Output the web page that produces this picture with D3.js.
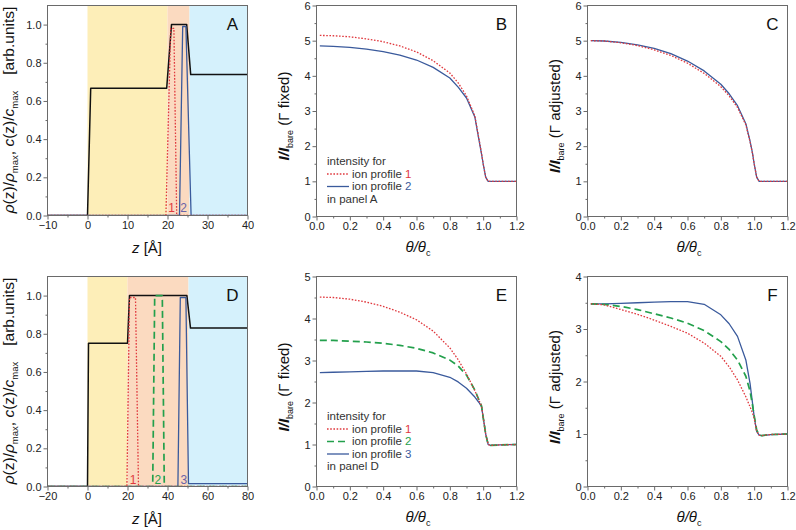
<!DOCTYPE html>
<html><head><meta charset="utf-8">
<script src="https://cdn.jsdelivr.net/npm/d3@7"></script>
<style>body{margin:0;background:#fff}</style>
</head><body><svg id="c" width="796" height="530"></svg>
<script>
// ---------- DATA ----------
// Panel A: density profile and ion profiles
const zA_rho  = [-10, 0, 0.8, 19.8, 21, 24.8, 25.8, 40];
const rhoA    = [0, 0, 0.667, 0.667, 1.0, 1.0, 0.738, 0.738];
const zA_ion1 = [-10, 19.6, 20.8, 21.6, 22.3, 40];
const cA_ion1 = [0, 0, 0.98, 0.98, 0, 0];
const zA_ion2 = [-10, 23.0, 23.8, 24.6, 25.9, 40];
const cA_ion2 = [0, 0, 0.99, 0.99, 0, 0];
const regionsA = [[0, 20], [20, 25.5], [25.5, 40]];
const ionLabelsA = [["1", 21], ["2", 24]];

// Panel D
const zD_rho  = [-20, 0, 0.5, 20, 21, 49.7, 51.5, 80];
const rhoD    = [0, 0, 0.75, 0.75, 1.0, 1.0, 0.83, 0.83];
const zD_ion1 = [-20, 19.7, 21, 24, 25.5, 80];
const cD_ion1 = [0, 0, 0.99, 0.99, 0, 0];
const zD_ion2 = [-20, 32.6, 33.6, 37.4, 38.4, 80];
const cD_ion2 = [0, 0, 1.0, 1.0, 0, 0];
const zD_ion3 = [-20, 45.2, 46.4, 49.2, 50.5, 80];
const cD_ion3 = [0, 0, 0.99, 0.99, 0.015, 0.015];
const regionsD = [[0, 20], [20, 50.5], [50.5, 80]];
const ionLabelsD = [["1", 22.8], ["2", 35.2], ["3", 48.2]];

// Intensity curves vs theta/theta_c
const theta = [0.02,0.1,0.2,0.3,0.4,0.5,0.6,0.7,0.8,0.85,0.9,0.95,0.975,0.99,1.0,1.015,1.03,1.045,1.1,1.2];
const B_ion1 = [5.15,5.14,5.11,5.05,4.97,4.85,4.68,4.43,4.08,3.80,3.43,2.86,2.20,1.80,1.50,1.12,1.00,1.00,1.00,1.00];
const B_ion2 = [4.85,4.84,4.81,4.76,4.69,4.59,4.45,4.24,3.94,3.68,3.37,2.83,2.17,1.78,1.50,1.12,1.00,1.00,1.00,1.00];
const C_ion1 = [5.00,4.99,4.94,4.86,4.74,4.58,4.36,4.07,3.69,3.43,3.10,2.61,2.13,1.79,1.50,1.12,1.00,1.00,1.00,1.00];
const C_ion2 = [5.00,4.99,4.95,4.88,4.78,4.63,4.42,4.14,3.76,3.49,3.15,2.64,2.15,1.80,1.50,1.12,1.00,1.00,1.00,1.00];
const E_ion1 = [4.51,4.50,4.46,4.39,4.29,4.15,3.97,3.70,3.30,3.02,2.68,2.28,2.05,1.92,1.65,1.25,1.00,0.98,0.99,1.00];
const E_ion2 = [3.48,3.48,3.46,3.44,3.41,3.36,3.29,3.18,3.01,2.87,2.65,2.30,2.06,1.92,1.65,1.25,1.00,0.98,0.99,1.00];
const E_ion3 = [2.71,2.72,2.73,2.74,2.75,2.75,2.75,2.71,2.60,2.49,2.34,2.13,2.00,1.90,1.65,1.25,1.00,0.98,0.99,1.00];
const F_ion1 = [3.48,3.46,3.37,3.28,3.17,3.05,2.92,2.73,2.48,2.28,2.03,1.71,1.52,1.40,1.30,1.05,0.98,0.97,0.99,1.00];
const F_ion2 = [3.48,3.47,3.43,3.37,3.29,3.21,3.11,2.97,2.76,2.61,2.41,2.10,1.82,1.55,1.35,1.08,0.98,0.97,0.99,1.00];
const F_ion3 = [3.48,3.48,3.49,3.50,3.51,3.52,3.52,3.47,3.27,3.10,2.86,2.41,1.97,1.59,1.33,1.05,0.98,0.97,0.99,1.00];

// Ticks
const zTicksA = [-10, 0, 10, 20, 30, 40];
const zTicksD = [-20, 0, 20, 40, 60, 80];
const rhoTicks = [0, 0.2, 0.4, 0.6, 0.8, 1.0];
const thetaTicks = [0, 0.2, 0.4, 0.6, 0.8, 1.0, 1.2];

// ---------- STYLE ----------
const FONT = "'Liberation Sans', Arial, Helvetica, sans-serif";
const COL = {red: "#e0393e", blue: "#3a5a9c", green: "#23a04c", black: "#111",
  yellow: "#fdeeb8", orange: "#fbdac0", cyan: "#d5f1fc", frame: "#6a6a6a", lbl3: "#6a64a8"};
const STY = {
  ion1: {stroke: COL.red, width: 1.3, dash: "1.6,1.6"},
  ion2B: {stroke: COL.blue, width: 1.3, dash: null},
  ion2: {stroke: COL.green, width: 1.7, dash: "7,4"},
  ion3: {stroke: COL.blue, width: 1.3, dash: null},
  rho: {stroke: COL.black, width: 1.5, dash: null}
};

const svg = d3.select("#c").style("font-family", FONT);

function makePanel(cfg) {
  const g = svg.append("g");
  const x = d3.scaleLinear().domain(cfg.xdom).range([cfg.left, cfg.left + cfg.w]);
  const y = d3.scaleLinear().domain(cfg.ydom).range([cfg.top + cfg.h, cfg.top]);
  const clipId = "clip" + cfg.id;
  svg.append("clipPath").attr("id", clipId).append("rect")
    .attr("x", cfg.left).attr("y", cfg.top).attr("width", cfg.w).attr("height", cfg.h);
  const plot = g.append("g").attr("clip-path", `url(#${clipId})`);

  if (cfg.regions) {
    const fills = [COL.yellow, COL.orange, COL.cyan];
    cfg.regions.forEach((r, i) => {
      plot.append("rect").attr("x", x(r[0])).attr("y", cfg.top)
        .attr("width", x(r[1]) - x(r[0])).attr("height", cfg.h).attr("fill", fills[i]);
    });
  }
  const line = d3.line().x(d => x(d[0])).y(d => y(d[1]));
  cfg.series.forEach(s => {
    const pts = s.xs.map((v, i) => [v, s.ys[i]]);
    plot.append("path").attr("d", line(pts)).attr("fill", "none")
      .attr("stroke", s.style.stroke).attr("stroke-width", s.style.width)
      .attr("stroke-dasharray", s.style.dash).attr("stroke-linejoin", "round");
  });

  // axes (outward ticks)
  const xAxis = d3.axisBottom(x).tickValues(cfg.xticks).tickSize(4).tickPadding(2).tickFormat(cfg.xfmt);
  const xMinor = d3.axisBottom(x).tickValues(cfg.xminor).tickSize(2).tickFormat("");
  const yAxis = d3.axisLeft(y).tickValues(cfg.yticks).tickSize(4).tickPadding(2).tickFormat(cfg.yfmt);
  const yMinor = d3.axisLeft(y).tickValues(cfg.yminor).tickSize(2).tickFormat("");
  [xAxis, xMinor].forEach(a => {
    style(g.append("g").attr("transform", `translate(0,${cfg.top + cfg.h})`).call(a));
  });
  [yAxis, yMinor].forEach(a => {
    style(g.append("g").attr("transform", `translate(${cfg.left},0)`).call(a));
  });
  g.append("rect").attr("x", cfg.left).attr("y", cfg.top).attr("width", cfg.w).attr("height", cfg.h)
    .attr("fill", "none").attr("stroke", COL.frame).attr("stroke-width", 1);

  // panel letter
  g.append("text").attr("x", cfg.left + cfg.w - 15).attr("y", cfg.top + 24)
    .attr("text-anchor", "middle").attr("font-size", 17).attr("fill", "#111").text(cfg.id);

  return {g, x, y};
}
function style(ga) {
  ga.select(".domain").remove();
  ga.selectAll(".tick line").attr("stroke", COL.frame);
  ga.selectAll(".tick text").attr("font-size", 11).attr("fill", "#222").attr("font-family", FONT);
}

function rhoLabel(g, cx, cy) {
  const t = g.append("text").attr("transform", `translate(${cx},${cy}) rotate(-90)`)
    .attr("text-anchor", "middle").attr("font-size", 15.5).attr("fill", "#111");
  t.append("tspan").attr("font-style", "italic").text("ρ");
  t.append("tspan").text("(z)/");
  t.append("tspan").attr("font-style", "italic").text("ρ");
  t.append("tspan").attr("font-size", 9.5).attr("dy", 4).text("max");
  t.append("tspan").attr("dy", -4).text(", ");
  t.append("tspan").attr("font-style", "italic").text("c");
  t.append("tspan").text("(z)/");
  t.append("tspan").attr("font-style", "italic").text("c");
  t.append("tspan").attr("font-size", 9.5).attr("dy", 4).text("max");
  t.append("tspan").attr("dy", -4).attr("dx", 16).text("[arb.units]");
}
function zLabel(g, cx, cy) {
  const t = g.append("text").attr("x", cx).attr("y", cy).attr("text-anchor", "middle")
    .attr("font-size", 15).attr("fill", "#111");
  t.append("tspan").attr("font-style", "italic").text("z");
  t.append("tspan").text(" [Å]");
}
function thetaLabel(g, cx, cy) {
  const t = g.append("text").attr("x", cx).attr("y", cy).attr("text-anchor", "middle")
    .attr("font-size", 15).attr("fill", "#111").attr("font-style", "italic");
  t.append("tspan").text("θ/θ");
  t.append("tspan").attr("font-size", 9).attr("dy", 4).attr("font-style", "normal").text("c");
}
function intLabel(g, cx, cy, word) {
  const t = g.append("text").attr("transform", `translate(${cx},${cy}) rotate(-90)`)
    .attr("text-anchor", "middle").attr("font-size", 15).attr("fill", "#111");
  t.append("tspan").attr("font-style", "italic").attr("font-weight", "bold").text("I/I");
  t.append("tspan").attr("font-size", 9).attr("dy", 4).text("bare");
  t.append("tspan").attr("dy", -4).text(" (Γ " + word + ")");
}
function legend(g, x0, yBase, items, panelName) {
  const step = 12.5;
  let yy = yBase;
  g.append("text").attr("x", x0).attr("y", yy).attr("font-size", 11.5).attr("fill", "#333").text("intensity for");
  items.forEach(it => {
    yy += step;
    g.append("line").attr("x1", x0).attr("x2", x0 + 22).attr("y1", yy - 3.5).attr("y2", yy - 3.5)
      .attr("stroke", it.style.stroke).attr("stroke-width", it.style.width).attr("stroke-dasharray", it.style.dash);
    const t = g.append("text").attr("x", x0 + 25).attr("y", yy).attr("font-size", 11.5).attr("fill", "#333");
    t.append("tspan").text("ion profile ");
    t.append("tspan").attr("fill", it.numColor).text(it.num);
  });
  yy += step;
  g.append("text").attr("x", x0).attr("y", yy).attr("font-size", 11.5).attr("fill", "#333").text("in panel " + panelName);
}

const r02 = [0.1, 0.3, 0.5, 0.7, 0.9];
const f1 = d3.format(".1f");

// ---------- PANEL A ----------
const pA = makePanel({id: "A", left: 47.5, top: 5.5, w: 200, h: 210, xdom: [-10, 40], ydom: [0, 1.1],
  xticks: zTicksA, xminor: [-5, 5, 15, 25, 35], xfmt: d3.format("d"),
  yticks: rhoTicks, yminor: r02, yfmt: f1, regions: regionsA,
  series: [
    {xs: zA_rho, ys: rhoA, style: STY.rho},
    {xs: zA_ion2, ys: cA_ion2, style: STY.ion2B},
    {xs: zA_ion1, ys: cA_ion1, style: STY.ion1}
  ]});
ionLabelsA.forEach(([t, z], i) => pA.g.append("text").attr("x", pA.x(z)).attr("y", 212)
  .attr("text-anchor", "middle").attr("font-size", 12).attr("fill", i === 0 ? COL.red : COL.lbl3).text(t));
rhoLabel(pA.g, 14, 110);
zLabel(pA.g, 147, 253);

// ---------- PANEL B ----------
const pB = makePanel({id: "B", left: 316.5, top: 5.5, w: 200, h: 211, xdom: [0, 1.2], ydom: [0, 6],
  xticks: thetaTicks, xminor: [0.1, 0.3, 0.5, 0.7, 0.9, 1.1], xfmt: f1,
  yticks: d3.range(0, 7), yminor: [0.5, 1.5, 2.5, 3.5, 4.5, 5.5], yfmt: d3.format("d"),
  series: [
    {xs: theta, ys: B_ion2, style: STY.ion2B},
    {xs: theta, ys: B_ion1, style: STY.ion1}
  ]});
legend(pB.g, 327, 165, [
  {style: STY.ion1, num: "1", numColor: COL.red},
  {style: STY.ion2B, num: "2", numColor: COL.blue}
], "A");
intLabel(pB.g, 289, 116, "fixed");
thetaLabel(pB.g, 418, 252);

// ---------- PANEL C ----------
const pC = makePanel({id: "C", left: 587.5, top: 5.5, w: 200, h: 211, xdom: [0, 1.2], ydom: [0, 6],
  xticks: thetaTicks, xminor: [0.1, 0.3, 0.5, 0.7, 0.9, 1.1], xfmt: f1,
  yticks: d3.range(0, 7), yminor: [0.5, 1.5, 2.5, 3.5, 4.5, 5.5], yfmt: d3.format("d"),
  series: [
    {xs: theta, ys: C_ion2, style: STY.ion2B},
    {xs: theta, ys: C_ion1, style: STY.ion1}
  ]});
intLabel(pC.g, 560, 116, "adjusted");
thetaLabel(pC.g, 689, 252);

// ---------- PANEL D ----------
const pD = makePanel({id: "D", left: 47.5, top: 276.5, w: 200, h: 210, xdom: [-20, 80], ydom: [0, 1.1],
  xticks: zTicksD, xminor: [-10, 10, 30, 50, 70], xfmt: d3.format("d"),
  yticks: rhoTicks, yminor: r02, yfmt: f1, regions: regionsD,
  series: [
    {xs: zD_rho, ys: rhoD, style: STY.rho},
    {xs: zD_ion3, ys: cD_ion3, style: STY.ion3},
    {xs: zD_ion2, ys: cD_ion2, style: STY.ion2},
    {xs: zD_ion1, ys: cD_ion1, style: STY.ion1}
  ]});
ionLabelsD.forEach(([t, z], i) => pD.g.append("text").attr("x", pD.x(z)).attr("y", 484)
  .attr("text-anchor", "middle").attr("font-size", 12)
  .attr("fill", [COL.red, COL.green, COL.lbl3][i]).text(t));
rhoLabel(pD.g, 14, 381);
zLabel(pD.g, 147, 524);

// ---------- PANEL E ----------
const pE = makePanel({id: "E", left: 316.5, top: 276.5, w: 200, h: 210, xdom: [0, 1.2], ydom: [0, 5],
  xticks: thetaTicks, xminor: [0.1, 0.3, 0.5, 0.7, 0.9, 1.1], xfmt: f1,
  yticks: d3.range(0, 6), yminor: [0.5, 1.5, 2.5, 3.5, 4.5], yfmt: d3.format("d"),
  series: [
    {xs: theta, ys: E_ion3, style: STY.ion3},
    {xs: theta, ys: E_ion2, style: STY.ion2},
    {xs: theta, ys: E_ion1, style: STY.ion1}
  ]});
legend(pE.g, 327, 420, [
  {style: STY.ion1, num: "1", numColor: COL.red},
  {style: STY.ion2, num: "2", numColor: COL.green},
  {style: STY.ion3, num: "3", numColor: COL.blue}
], "D");
intLabel(pE.g, 289, 387, "fixed");
thetaLabel(pE.g, 418, 522);

// ---------- PANEL F ----------
const pF = makePanel({id: "F", left: 587.5, top: 276.5, w: 200, h: 210, xdom: [0, 1.2], ydom: [0, 4],
  xticks: thetaTicks, xminor: [0.1, 0.3, 0.5, 0.7, 0.9, 1.1], xfmt: f1,
  yticks: d3.range(0, 5), yminor: [0.5, 1.5, 2.5, 3.5], yfmt: d3.format("d"),
  series: [
    {xs: theta, ys: F_ion3, style: STY.ion3},
    {xs: theta, ys: F_ion2, style: STY.ion2},
    {xs: theta, ys: F_ion1, style: STY.ion1}
  ]});
intLabel(pF.g, 560, 387, "adjusted");
thetaLabel(pF.g, 689, 522);
</script>
</body></html>
